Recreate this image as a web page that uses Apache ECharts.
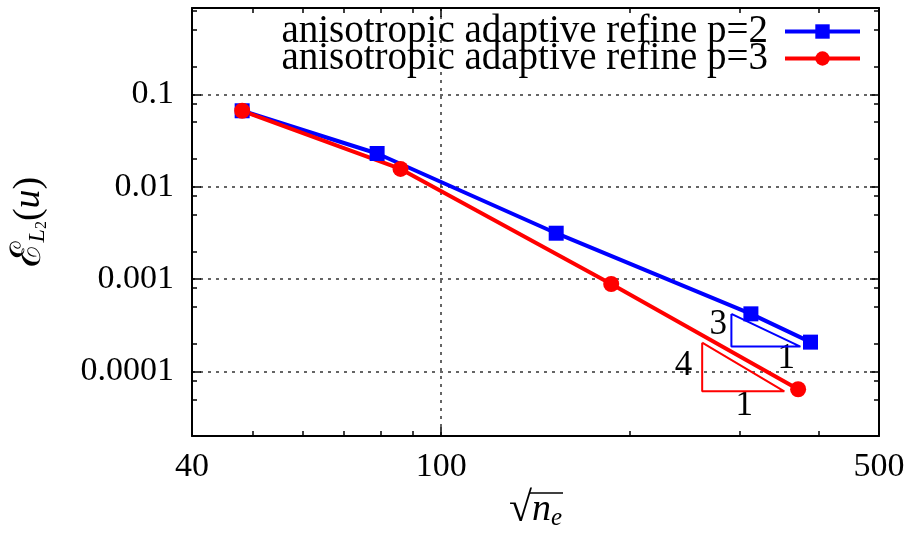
<!DOCTYPE html>
<html>
<head>
<meta charset="utf-8">
<script src="https://cdn.jsdelivr.net/npm/echarts@6/dist/echarts.min.js"></script>
<style>html,body{margin:0;padding:0;background:#fff}#chart-show{width:908px;height:536px}</style>
</head>
<body>
<div id="chart-show"></div>
<script>
// data (sqrt(n_e), L2 error)
var neP2 = [48.1, 79.0, 152.6, 312.2, 388.7];
var errP2 = [0.0664, 0.0229, 0.00314, 0.000421, 0.000208];
var neP3 = [48.1, 86.1, 186.8, 371.4];
var errP3 = [0.0664, 0.0156, 0.000885, 0.0000643];

var xMajor = [40, 100, 500];
var xMajorLabels = ['40', '100', '500'];
var xMinor = [50, 60, 70, 80, 90, 200, 300, 400];
var yMajor = [0.1, 0.01, 0.001, 0.0001];
var yMajorLabels = ['0.1', '0.01', '0.001', '0.0001'];
var yMinor = [0.00005, 0.00008, 0.0002, 0.0005, 0.0008, 0.002, 0.005, 0.008,
              0.02, 0.05, 0.08, 0.2, 0.5, 0.8];

// slope triangles
var triP2X = [290.6, 374.5];
var triP2Y = [0.000186, 0.00042];
var triP3X = [261, 353];
var triP3Y = [0.000061, 0.000205];
var slopeText = ['3', '1', '4', '1'];
var slopeTextX = [277, 355.6, 243.7, 304.8];
var slopeTextY = [0.00032, 0.000138, 0.000116, 0.000043];

var nameP2 = 'anisotropic adaptive refine p=2';
var nameP3 = 'anisotropic adaptive refine p=3';

var FONT = '"Liberation Serif", "DejaVu Serif", serif';

function lg(v) { return Math.log10(v); }
function pts(xs, ys) { return xs.map(function (x, i) { return [lg(x), lg(ys[i])]; }); }
function tri(xs, ys) { return pts([xs[0], xs[0], xs[1], xs[0]], [ys[1], ys[0], ys[0], ys[1]]); }
function labelOf(vals, labels) {
    return function (v) {
        for (var i = 0; i < vals.length; i++) {
            if (Math.abs(lg(vals[i]) - v) < 1e-6) return labels[i];
        }
        return '';
    };
}

var xMin = lg(40), xMax = lg(500);
var yMin = lg(0.00002), yMax = lg(0.86);

function xAxisOf(pos, vals, len, main) {
    return {
        type: 'value', position: pos, min: xMin, max: xMax,
        axisLine: {show: main !== false, onZero: false, lineStyle: {color: '#000', width: 2}},
        axisTick: {show: true, inside: true, length: len, customValues: vals.map(lg),
                   lineStyle: {color: '#000', width: 1.5}},
        axisLabel: {show: false},
        splitLine: {show: false}
    };
}
function yAxisOf(pos, vals, len, main) {
    return {
        type: 'value', position: pos, min: yMin, max: yMax,
        axisLine: {show: main !== false, onZero: false, lineStyle: {color: '#000', width: 2}},
        axisTick: {show: true, inside: true, length: len, customValues: vals.map(lg),
                   lineStyle: {color: '#000', width: 1.5}},
        axisLabel: {show: false},
        splitLine: {show: false}
    };
}

var xBottom = xAxisOf('bottom', xMajor, 9);
xBottom.axisLabel = {show: true, customValues: xMajor.map(lg), margin: 14,
    formatter: labelOf(xMajor, xMajorLabels), color: '#000', fontFamily: FONT, fontSize: 34};
xBottom.splitLine = {show: true, lineStyle: {color: '#333', width: 1.5, type: [3, 5]}};
xBottom.name = '{r|√}{n|n}{e|e}';
xBottom.nameLocation = 'middle';
xBottom.nameGap = 50;
xBottom.nameTextStyle = {color: '#000', rich: {
    r: {fontFamily: FONT, fontSize: 42, color: '#000'},
    n: {fontFamily: FONT, fontSize: 38, fontStyle: 'italic', color: '#000'},
    e: {fontFamily: FONT, fontSize: 25, fontStyle: 'italic', color: '#000', verticalAlign: 'bottom'}
}};

var yLeft = yAxisOf('left', yMajor, 9);
yLeft.axisLabel = {show: true, customValues: yMajor.map(lg), margin: 18,
    formatter: labelOf(yMajor, yMajorLabels), color: '#000', fontFamily: FONT, fontSize: 34};
yLeft.splitLine = {show: true, lineStyle: {color: '#333', width: 1.5, type: [3, 5]}};
yLeft.name = '{e|ℰ}{s|L}{t|2}{p|(}{u|u}{p|)}';
yLeft.nameLocation = 'middle';
yLeft.nameRotate = 90;
yLeft.nameGap = 142;
yLeft.nameTextStyle = {color: '#000', rich: {
    e: {fontFamily: FONT, fontSize: 42, color: '#000'},
    s: {fontFamily: FONT, fontSize: 24, fontStyle: 'italic', color: '#000', verticalAlign: 'bottom'},
    t: {fontFamily: FONT, fontSize: 16, color: '#000', verticalAlign: 'bottom'},
    p: {fontFamily: FONT, fontSize: 38, color: '#000'},
    u: {fontFamily: FONT, fontSize: 38, fontStyle: 'italic', color: '#000'}
}};

var myChart = echarts.init(document.getElementById('chart-show'));

var option = {
    animation: false,
    backgroundColor: '#fff',
    grid: {left: 191, right: 29, top: 8, bottom: 98, containLabel: false},
    legend: {
        data: [nameP2, nameP3],
        orient: 'vertical', right: 46, top: 12, padding: 0, itemGap: -12,
        align: 'right', itemWidth: 75, itemHeight: 18,
        lineStyle: {width: 4},
        textStyle: {fontFamily: FONT, fontSize: 39, lineHeight: 24, color: '#000', padding: [0, 12, 0, 0]}
    },
    graphic: [{
        // overline of the square root in the x axis title
        type: 'line', shape: {x1: 530, y1: 493, x2: 563, y2: 493},
        style: {stroke: '#000', lineWidth: 1.5}, silent: true
    }],
    xAxis: [
        xBottom,
        xAxisOf('bottom', xMinor, 5, false),
        xAxisOf('top', xMajor, 9),
        xAxisOf('top', xMinor, 5, false)
    ],
    yAxis: [
        yLeft,
        yAxisOf('left', yMinor, 5, false),
        yAxisOf('right', yMajor, 9),
        yAxisOf('right', yMinor, 5, false)
    ],
    series: [
        {
            name: nameP2, type: 'line', data: pts(neP2, errP2),
            symbol: 'rect', symbolSize: 15, showAllSymbol: true,
            lineStyle: {color: '#0000ff', width: 4}, itemStyle: {color: '#0000ff'}
        },
        {
            name: nameP3, type: 'line', data: pts(neP3, errP3),
            symbol: 'circle', symbolSize: 16, showAllSymbol: true,
            lineStyle: {color: '#ff0000', width: 4}, itemStyle: {color: '#ff0000'}
        },
        {
            type: 'line', data: tri(triP2X, triP2Y), symbol: 'none', silent: true,
            lineStyle: {color: '#0000ff', width: 2}
        },
        {
            type: 'line', data: tri(triP3X, triP3Y), symbol: 'none', silent: true,
            lineStyle: {color: '#ff0000', width: 2}
        },
        {
            type: 'scatter', symbolSize: 0, silent: true,
            itemStyle: {opacity: 1},
            data: slopeText.map(function (t, i) {
                return {name: t, value: [lg(slopeTextX[i]), lg(slopeTextY[i])]};
            }),
            label: {show: true, position: 'inside', formatter: '{b}', color: '#000',
                    fontFamily: FONT, fontSize: 35}
        }
    ]
};
myChart.setOption(option);
window.onresize = function () { myChart.resize(); };
</script>
</body>
</html>
